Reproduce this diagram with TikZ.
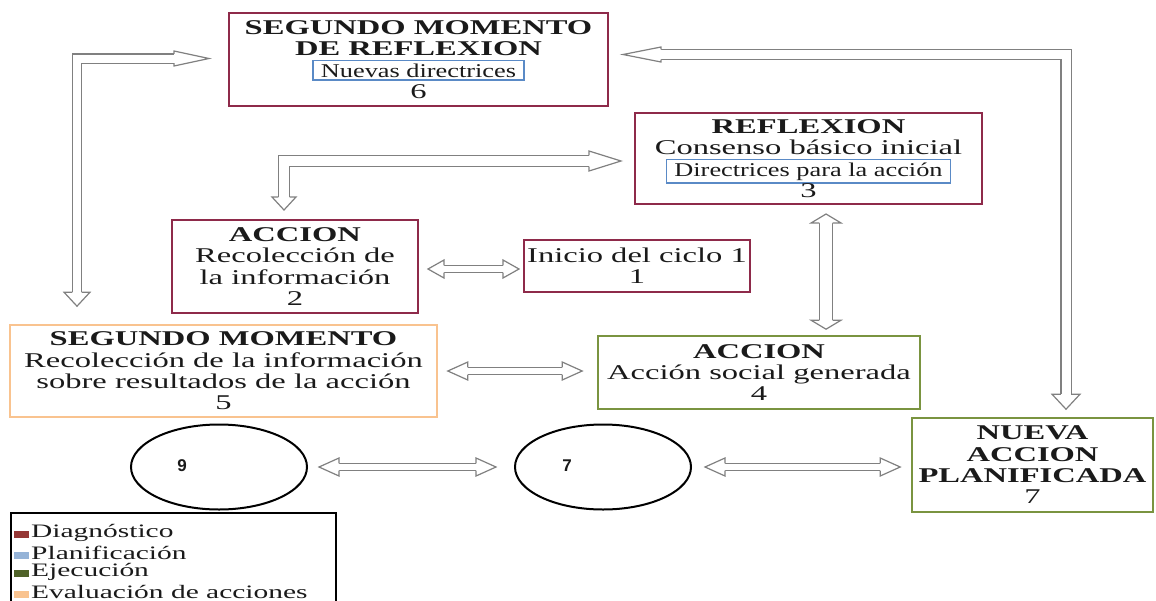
\documentclass[tikz,border=0pt]{standalone}
\usepackage{fontspec}
\setmainfont{Liberation Serif}[FakeStretch=1.55]
\newfontfamily\planfont{Liberation Serif}[FakeStretch=1.35]
\newfontfamily\lblfont{Liberation Sans}
\usetikzlibrary{calc,shapes.geometric}

\definecolor{diagred}{HTML}{8E2A4A}
\definecolor{planblue}{HTML}{5A8AC6}
\definecolor{ejecgreen}{HTML}{7A9440}
\definecolor{evalorange}{HTML}{F9C38F}
\definecolor{legred}{HTML}{953735}
\definecolor{legblue}{HTML}{95B3D7}
\definecolor{leggreen}{HTML}{4F6228}
\definecolor{arrgray}{HTML}{808080}
\definecolor{txt}{HTML}{1A1A1A}

\newcommand{\plan}[1]{\smash{\setlength{\fboxsep}{2pt}\setlength{\fboxrule}{1.5pt}\fcolorbox{planblue}{white}{\planfont\fontsize{19.5}{19.5}\selectfont\hspace{5pt}#1\hspace{5pt}}}}
\newcommand{\ahead}[5]{%
  \begin{scope}[shift={(#1)},rotate=#2]
    \draw[arrline] (-#3,#5) -- (-#3,#4) -- (0,0) -- (-#3,-#4) -- (-#3,-#5);
  \end{scope}}

\tikzset{
  box/.style={align=center, inner sep=0pt, text=txt, font=\fontsize{21}{21.3}\selectfont},
  diag/.style={box, draw=diagred, line width=2pt},
  eval/.style={box, draw=evalorange, line width=1.6pt},
  ejec/.style={box, draw=ejecgreen, line width=1.6pt},
  cyc/.style={ellipse, draw=black, line width=2pt, minimum width=176pt, minimum height=85pt},
  numlbl/.style={font=\lblfont\bfseries\fontsize{17}{17}\selectfont, text=txt},
  legitem/.style={anchor=west, inner sep=0pt, text=txt, font=\fontsize{19}{19}\selectfont},
  shaft/.style={draw=arrgray, line width=1.2pt, double=white, double distance=#1},
  shaft/.default=6pt,
  arrline/.style={draw=arrgray, line width=1.2pt, line join=miter, fill=white}
}

\begin{document}
\begin{tikzpicture}[x=1pt,y=-1pt]
\useasboundingbox (0,0) rectangle (1156,600);
\node[diag, minimum width=379pt, minimum height=93pt] (refl2) at (418.5,59.5) {\textbf{SEGUNDO MOMENTO}\\\textbf{DE REFLEXION}\\\plan{Nuevas directrices}\\6};
\node[diag, minimum width=347pt, minimum height=91pt] (refl1) at (808.5,158.5) {\textbf{REFLEXION}\\Consenso básico inicial\\\plan{Directrices para la acción}\\3};
\node[diag, minimum width=246pt, minimum height=93pt] (acc1) at (295,266.5) {\textbf{ACCION}\\Recolección de\\la información\\2};
\node[diag, minimum width=226pt, minimum height=52pt] (inicio) at (637,266) {Inicio del ciclo 1\\1};
\node[eval, minimum width=427pt, minimum height=92pt] (mom2) at (223.5,371) {\textbf{SEGUNDO MOMENTO}\\Recolección de la información\\sobre resultados de la acción\\5};
\node[ejec, minimum width=322pt, minimum height=73pt] (acc2) at (759,372.5) {\textbf{ACCION}\\Acción social generada\\4};
\node[ejec, minimum width=241pt, minimum height=94pt] (nueva) at (1032.5,465) {\textbf{NUEVA}\\\textbf{ACCION}\\\textbf{PLANIFICADA}\\7};
\node[cyc] (c9) at (219,467) {};
\node[cyc] (c7) at (603,467) {};
\node[numlbl] (n9) at ($(c9)+(-37,-1)$) {9};
\node[numlbl] (n7) at ($(c7)+(-36,-1)$) {7};

\coordinate (tA1) at ($(mom2.north -| 77,0)+(0,-18)$);
\coordinate (tA2) at ($(refl2.west)+(-19,-1)$);
\coordinate (tB1) at ($(acc1.north -| 284,0)+(0,-9)$);
\coordinate (tB2) at ($(refl1.west)+(-13,2.5)$);
\coordinate (tC1) at ($(refl2.east)+(14,-5)$);
\coordinate (tC2) at ($(nueva.north -| 1066,0)+(0,-8)$);
\coordinate (tD1) at ($(refl1.south -| 826,0)+(0,9)$);
\coordinate (tD2) at ($(acc2.north -| 826,0)+(0,-6)$);
\coordinate (tE1) at ($(acc1.east)+(9,2.5)$);
\coordinate (tE2) at ($(inicio.west)+(-4,3)$);
\coordinate (tF1) at ($(mom2.east)+(10,0)$);
\coordinate (tF2) at ($(acc2.west)+(-15,-1.5)$);
\coordinate (tG1) at ($(c9.east)+(11,0)$);
\coordinate (tG2) at ($(c7.west)+(-18,0)$);
\coordinate (tH1) at ($(c7.east)+(13,0)$);
\coordinate (tH2) at ($(nueva.west)+(-11,2)$);

\draw[shaft=8pt, shorten <=14pt, shorten >=35pt] (tA1) |- (tA2);
\ahead{tA1}{270}{14}{13}{4.6}
\ahead{tA2}{0}{35}{7.5}{4.6}
\draw[shaft=10pt, shorten <=13pt, shorten >=32pt] (tB1) |- (tB2);
\ahead{tB1}{270}{13}{12}{5.6}
\ahead{tB2}{0}{32}{10}{5.6}
\draw[shaft=9pt, shorten <=38pt, shorten >=15pt] (tC1) -| (tC2);
\ahead{tC1}{180}{38}{7.5}{5.1}
\ahead{tC2}{270}{15}{14}{5.1}
\draw[shaft=12pt, shorten <=9pt, shorten >=9pt] (tD1) -- (tD2);
\ahead{tD1}{90}{9}{15}{6.6}
\ahead{tD2}{270}{9}{15}{6.6}
\draw[shaft, shorten <=16pt, shorten >=16pt] (tE1) -- (tE2);
\ahead{tE1}{180}{16}{9}{3.6}
\ahead{tE2}{0}{16}{9}{3.6}
\draw[shaft, shorten <=20pt, shorten >=20pt] (tF1) -- (tF2);
\ahead{tF1}{180}{20}{9}{3.6}
\ahead{tF2}{0}{20}{9}{3.6}
\draw[shaft, shorten <=20pt, shorten >=20pt] (tG1) -- (tG2);
\ahead{tG1}{180}{20}{9}{3.6}
\ahead{tG2}{0}{20}{9}{3.6}
\draw[shaft, shorten <=20pt, shorten >=20pt] (tH1) -- (tH2);
\ahead{tH1}{180}{20}{9}{3.6}
\ahead{tH2}{0}{20}{9}{3.6}

\node[draw=black, line width=2pt, minimum width=325pt, minimum height=96pt, anchor=north west, inner sep=0pt] (legend) at (10,512) {};
\foreach \c/\t [count=\i] in {legred/Diagnóstico, legblue/Planificación, leggreen/Ejecución, evalorange/Evaluación de acciones}
  \node[legitem] (leg\i) at (14,513.5+19.5*\i) {\textcolor{\c}{\rule{15pt}{7pt}}\hspace{2pt}\t};
\end{tikzpicture}
\end{document}
